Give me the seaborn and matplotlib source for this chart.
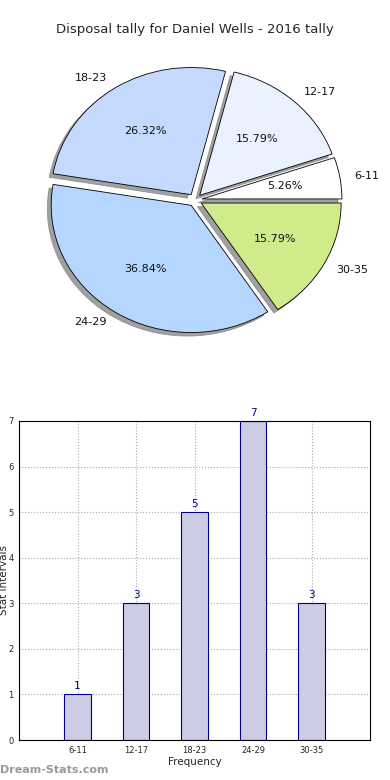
import matplotlib
matplotlib.use("Agg")
import matplotlib.pyplot as plt
import seaborn as sns
import pandas as pd

categories = ["6-11", "12-17", "18-23", "24-29", "30-35"]
counts = [1, 3, 5, 7, 3]
pie_colors = ["#FFFFFF", "#EAF1FF", "#C5D9FF", "#B5D6FF", "#D0EB8A"]
yticks = [0, 1, 2, 3, 4, 5, 6, 7]
title = "Disposal tally for Daniel Wells - 2016 tally"

sns.set_style("white")
plt.rcParams["font.family"] = ["DejaVu Sans"]

fig = plt.figure(figsize=(3.9, 7.8), dpi=100)

# Pie (slightly wider than tall, as in the reference)
pw, ph = 350, 318
axp = fig.add_axes([(195 - pw / 2) / 390, (780 - 200 - ph / 2) / 780, pw / 390, ph / 780])
axp.pie(counts, labels=categories, colors=pie_colors, explode=[0.05] * len(counts),
        autopct="%.2f%%", shadow=dict(color="#888888", alpha=0.8), startangle=0,
        wedgeprops=dict(edgecolor="black", linewidth=0.6),
        textprops=dict(fontsize=8, color="#111111"))
axp.set_aspect("auto")
fig.text(0.5, 1 - 30 / 780, title, ha="center", va="center", fontsize=9.5)

# Bars
axb = fig.add_axes([19 / 390, 40 / 780, 351 / 390, 319 / 780])
df = pd.DataFrame({"cat": categories, "val": counts})
sns.barplot(data=df, x="cat", y="val", ax=axb, width=0.45, color="#CCCCE5",
            edgecolor="#000088", linewidth=0.8, saturation=1)
axb.set_xlim(-1, len(categories))
axb.set_ylim(0, 7)
axb.set_yticks(yticks)
axb.tick_params(labelsize=6, length=2, pad=2)
axb.grid(True, linestyle=":", color="#AAAAAA", linewidth=0.8)
axb.set_axisbelow(True)
for s in axb.spines.values():
    s.set_color("black")
    s.set_linewidth(0.8)
for i, v in enumerate(counts):
    axb.text(i, v + 0.07, str(v), ha="center", va="bottom", fontsize=7.5, color="#000088")
axb.set_xlabel("Frequency", fontsize=7.5, labelpad=2)
axb.set_ylabel("")
fig.text(4 / 390, 1 - 580 / 780, "Stat Intervals", rotation=90, ha="center", va="center", fontsize=7.5)
fig.text(0, 1 - 770 / 780, "Dream-Stats.com", ha="left", va="center", fontsize=8,
         color="#999999", fontweight="bold")

fig.savefig("out.png", dpi=100)
